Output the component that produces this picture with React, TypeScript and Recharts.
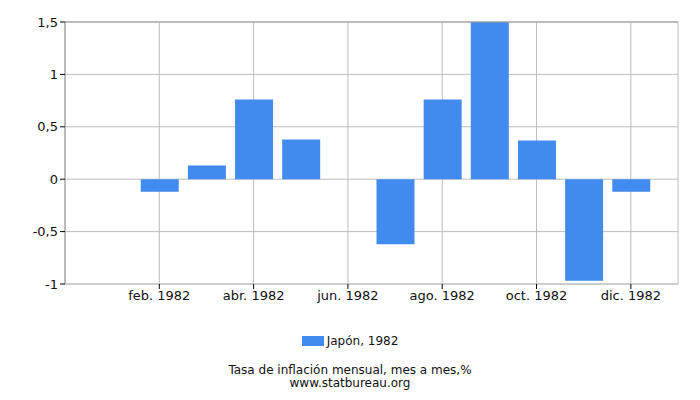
import { BarChart, Bar, XAxis, YAxis, CartesianGrid, ReferenceLine } from 'recharts';

const months = ['ene.', 'feb.', 'mar.', 'abr.', 'may.', 'jun.', 'jul.', 'ago.', 'sept.', 'oct.', 'nov.', 'dic.'];
const monthIndex = [1, 2, 3, 4, 5, 6, 7, 8, 9, 10, 11, 12];
const inflation = [0, -0.12, 0.13, 0.76, 0.38, 0, -0.62, 0.76, 1.5, 0.37, -0.97, -0.12];
const xTicks = [2, 4, 6, 8, 10, 12];
const yTicks = [-1, -0.5, 0, 0.5, 1, 1.5];
const seriesName = 'Japón, 1982';

const data = monthIndex.map((m, i) => ({ m, value: inflation[i] }));

const font = '"DejaVu Sans", sans-serif';

export default function App() {
  return (
    <div style={{ position: 'absolute', left: 0, top: 0, width: 700, height: 400, background: '#fff', fontFamily: font }}>
      <BarChart width={700} height={400} data={data} margin={{ top: 22, right: 22, bottom: 86, left: 0 }}>
        <CartesianGrid stroke="#bdbdbd" strokeWidth={1} />
        <XAxis
          type="number"
          dataKey="m"
          domain={[0, 13]}
          ticks={xTicks}
          tickFormatter={(v: number) => `${months[v - 1]} 1982`}
          axisLine={{ stroke: '#bdbdbd' }}
          tickLine={{ stroke: '#000' }}
          tickSize={5}
          height={30}
          tick={{ fill: '#111', fontSize: 13, fontFamily: font }}
        />
        <YAxis
          domain={[-1, 1.5]}
          ticks={yTicks}
          tickFormatter={(v: number) => String(v).replace('.', ',')}
          axisLine={{ stroke: '#999' }}
          tickLine={{ stroke: '#000' }}
          tickSize={5}
          width={65}
          tick={{ fill: '#111', fontSize: 13, fontFamily: font }}
          interval={0}
        />
        <ReferenceLine y={1.5} stroke="#999" />
        <Bar dataKey="value" name={seriesName} fill="#428bee" barSize={38} isAnimationActive={false} />
      </BarChart>
      <div style={{ position: 'absolute', top: 334, left: 0, width: 700, display: 'flex', justifyContent: 'center', alignItems: 'center', fontSize: 12, color: '#111' }}>
        <span style={{ display: 'inline-block', width: 22, height: 10, background: '#428bee', marginRight: 3 }} />
        <span>{seriesName}</span>
      </div>
      <div style={{ position: 'absolute', top: 364, left: 0, width: 700, textAlign: 'center', fontSize: 12, lineHeight: '13px', color: '#111' }}>
        <div>Tasa de inflación mensual, mes a mes,%</div>
        <div>www.statbureau.org</div>
      </div>
    </div>
  );
}
